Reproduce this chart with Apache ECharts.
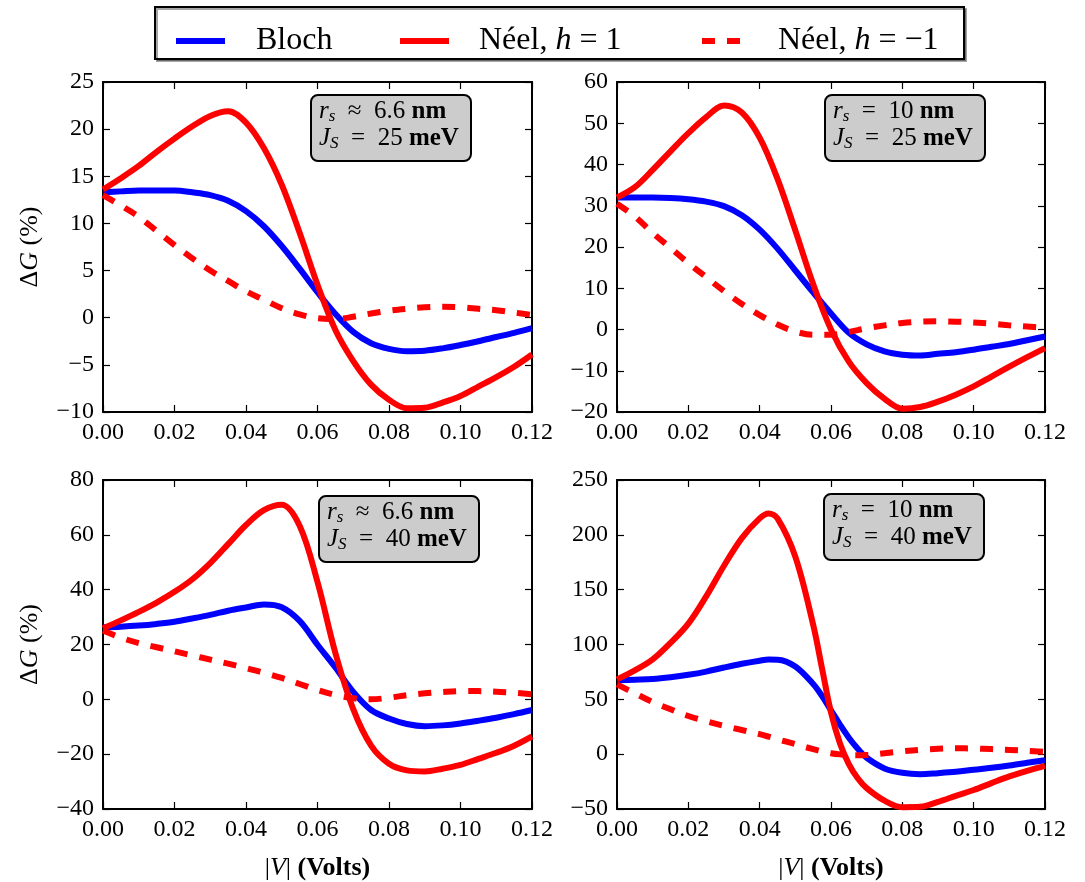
<!DOCTYPE html>
<html>
<head>
<meta charset="utf-8">
<script src="https://cdn.jsdelivr.net/npm/echarts@6/dist/echarts.min.js"></script>
<style>
html,body{margin:0;padding:0;background:#fff;}
#c{width:1085px;height:882px;}
</style>
</head>
<body>
<div id="c"></div>
<script>
// ---------- data ----------
const voltages = [0,0.005,0.01,0.015,0.02,0.025,0.03,0.035,0.04,0.045,0.05,0.055,0.06,0.065,0.07,0.075,0.08,0.085,0.09,0.095,0.10,0.105,0.11,0.115,0.12];
const voltagesBR = [0,0.005,0.01,0.015,0.02,0.025,0.03,0.035,0.04,0.0425,0.045,0.05,0.055,0.0575,0.06,0.0625,0.065,0.0675,0.07,0.075,0.08,0.085,0.09,0.095,0.10,0.105,0.11,0.115,0.12];

// top-left: r_s ~ 6.6 nm, J_S = 25 meV
const blochTL = [13.3,13.4,13.5,13.5,13.5,13.3,13.0,12.4,11.3,9.7,7.6,5.2,2.7,0.4,-1.5,-2.7,-3.3,-3.55,-3.5,-3.25,-2.9,-2.5,-2.05,-1.6,-1.1];
const neelPosTL = [13.6,14.8,16.1,17.6,19.0,20.3,21.4,21.9,20.7,18.0,14.1,9.0,3.5,-1.3,-4.6,-7.1,-8.7,-9.6,-9.55,-9.0,-8.3,-7.3,-6.3,-5.2,-3.9];
const neelNegTL = [13.0,11.9,10.7,9.2,7.7,6.3,5.0,3.9,2.8,1.9,1.0,0.35,-0.05,-0.15,0.1,0.45,0.75,0.95,1.1,1.15,1.1,0.95,0.8,0.55,0.3];

// top-right: r_s = 10 nm, J_S = 25 meV
const blochTR = [32.0,32.0,32.0,31.9,31.6,31.0,29.9,27.7,24.2,19.6,14.3,9.0,3.9,-0.8,-3.6,-5.3,-6.1,-6.3,-5.9,-5.5,-4.9,-4.2,-3.5,-2.6,-1.7];
const neelPosTR = [32.0,34.5,38.7,43.2,47.6,51.5,54.3,52.6,46.5,36.5,24.0,11.0,0.0,-7.8,-13.0,-16.8,-19.2,-18.8,-17.5,-15.8,-13.8,-11.4,-9.0,-6.7,-4.5];
const neelNegTR = [30.5,27.4,23.4,19.8,16.1,12.7,9.3,6.2,3.5,1.2,-0.5,-1.3,-1.3,-0.6,0.3,1.0,1.6,1.9,2.0,1.9,1.7,1.4,1.0,0.7,0.4];

// bottom-left: r_s ~ 6.6 nm, J_S = 40 meV
const blochBL = [26.3,26.5,26.9,27.5,28.3,29.5,30.8,32.3,33.5,34.6,33.6,28.6,19.9,11.6,2.7,-3.9,-7.0,-9.0,-9.8,-9.5,-8.8,-7.8,-6.7,-5.4,-3.9];
const neelPosBL = [25.9,28.8,31.9,35.3,39.2,43.8,49.7,56.6,63.6,69.0,71.0,63.3,42.8,16.9,-3.6,-16.9,-23.5,-25.9,-26.3,-25.3,-23.9,-21.7,-19.5,-16.9,-13.5];
const neelNegBL = [25.1,22.5,20.5,19.0,17.5,16.0,14.5,13.0,11.4,9.7,7.8,5.6,3.4,1.6,0.4,0.0,0.6,1.5,2.2,2.7,3.0,3.0,2.8,2.4,1.8];

// bottom-right: r_s = 10 nm, J_S = 40 meV (sampled on voltagesBR)
const blochBR = [67.3,67.9,68.6,70.2,72.4,75.3,79.0,82.4,85.2,86.3,86.2,80.0,64.0,53.0,40.0,27.0,15.0,5.0,-3.3,-13.0,-17.0,-18.2,-17.3,-16.1,-14.2,-12.4,-10.3,-7.9,-5.5];
const neelPosBR = [68.2,76.4,86.4,101.5,119.1,143.9,171.8,197.0,215.0,219.5,215.0,180.0,118.0,78.0,38.0,10.0,-9.0,-22.0,-31.0,-42.4,-48.3,-48.0,-43.5,-38.0,-32.7,-26.4,-20.3,-15.2,-10.6];
const neelNegBR = [63.6,55.5,47.6,40.9,34.8,30.0,25.8,22.0,18.2,16.0,13.6,9.1,4.5,2.5,0.9,-0.2,-0.9,-1.0,-0.8,0.9,2.6,4.0,4.9,5.3,5.2,4.6,3.9,3.0,2.1];

// axis ranges [min, max, interval]
const xRange = [0, 0.12, 0.02];
const yRangeTL = [-10, 25, 5];
const yRangeTR = [-20, 60, 10];
const yRangeBL = [-40, 80, 20];
const yRangeBR = [-50, 250, 50];

const seriesNames = ['Bloch', 'Néel, h = 1', 'Néel, h = \u22121'];
const boxLines = [
  ['{i|r}{sub|s}{n|  \u2248  6.6 }{b|nm}', '{i|J}{sub|S}{n|  =  25 }{b|meV}'],
  ['{i|r}{sub|s}{n|  =  10 }{b|nm}', '{i|J}{sub|S}{n|  =  25 }{b|meV}'],
  ['{i|r}{sub|s}{n|  \u2248  6.6 }{b|nm}', '{i|J}{sub|S}{n|  =  40 }{b|meV}'],
  ['{i|r}{sub|s}{n|  =  10 }{b|nm}', '{i|J}{sub|S}{n|  =  40 }{b|meV}']
];

// ---------- layout / style ----------
const FONT = 'Liberation Serif';
const BLUE = '#0000ff', RED = '#ff0000';
const LW = 6;
const DASH = [13, 12];

function richSet(fs) {
  return {
    n: {fontFamily: FONT, fontSize: fs, color: '#000'},
    i: {fontFamily: FONT, fontSize: fs, fontStyle: 'italic', color: '#000'},
    b: {fontFamily: FONT, fontSize: fs, fontWeight: 'bold', color: '#000'},
    sub: {fontFamily: FONT, fontSize: Math.round(fs * 0.68), fontStyle: 'italic', color: '#000', verticalAlign: 'bottom'},
    sp: {fontFamily: FONT, fontSize: fs}
  };
}

const panels = [
  {grid: {left: 103, top: 82, width: 429, height: 330}, yr: yRangeTL, xs: voltages, d: [blochTL, neelPosTL, neelNegTL], yName: true, xName: false, box: [310, 94]},
  {grid: {left: 617, top: 82, width: 428, height: 330}, yr: yRangeTR, xs: voltages, d: [blochTR, neelPosTR, neelNegTR], yName: false, xName: false, box: [824, 94]},
  {grid: {left: 103, top: 480, width: 429, height: 331}, yr: yRangeBL, xs: voltages, d: [blochBL, neelPosBL, neelNegBL], yName: true, xName: true, box: [318, 495]},
  {grid: {left: 617, top: 480, width: 428, height: 331}, yr: yRangeBR, xs: voltagesBR, d: [blochBR, neelPosBR, neelNegBR], yName: false, xName: true, box: [823, 493]}
];

const axisLine = {show: true, onZero: false, lineStyle: {color: '#000', width: 2}};
const axisTick = {show: true, inside: true, length: 7, lineStyle: {color: '#000', width: 1.2}};
const minus = v => String(v).replace('-', '\u2212');

const grids = [], xAxes = [], yAxes = [], series = [], graphics = [];
panels.forEach((p, k) => {
  grids.push(Object.assign({containLabel: false}, p.grid));
  xAxes.push({
    type: 'value', gridIndex: k, position: 'bottom', min: xRange[0], max: xRange[1], interval: xRange[2],
    axisLine, axisTick, splitLine: {show: false},
    axisLabel: {show: true, margin: 9, fontFamily: FONT, fontSize: 24, color: '#000', formatter: v => v.toFixed(2), showMaxLabel: true, showMinLabel: true},
    name: p.xName ? '{n||}{i|V}{n|| }{b|(Volts)}' : '',
    nameLocation: 'middle', nameGap: 46,
    nameTextStyle: {rich: richSet(26)}
  });
  xAxes.push({
    type: 'value', gridIndex: k, position: 'top', min: xRange[0], max: xRange[1], interval: xRange[2],
    axisLine, axisTick, splitLine: {show: false}, axisLabel: {show: false}
  });
  yAxes.push({
    type: 'value', gridIndex: k, position: 'left', min: p.yr[0], max: p.yr[1], interval: p.yr[2],
    axisLine, axisTick, splitLine: {show: false},
    axisLabel: {show: true, margin: 9, fontFamily: FONT, fontSize: 24, color: '#000', formatter: minus, showMaxLabel: true, showMinLabel: true},
    name: p.yName ? '{n|\u0394}{i|G}{n| (%)}' : '',
    nameLocation: 'middle', nameRotate: 90, nameGap: 60,
    nameTextStyle: {rich: richSet(26)}
  });
  yAxes.push({
    type: 'value', gridIndex: k, position: 'right', min: p.yr[0], max: p.yr[1], interval: p.yr[2],
    axisLine, axisTick, splitLine: {show: false}, axisLabel: {show: false}
  });
  const styles = [
    {color: BLUE, type: 'solid'},
    {color: RED, type: 'solid'},
    {color: RED, type: DASH}
  ];
  p.d.forEach((vals, s) => {
    series.push({
      name: seriesNames[s], type: 'line', xAxisIndex: 2 * k, yAxisIndex: 2 * k,
      data: p.xs.map((x, j) => [x, vals[j]]),
      showSymbol: false, symbol: 'none', smooth: 0.35, clip: true,
      lineStyle: {color: styles[s].color, width: LW, type: styles[s].type, cap: 'butt', join: 'round'},
      itemStyle: {color: styles[s].color},
      emphasis: {disabled: true}, z: 2 + s
    });
  });
  graphics.push({
    type: 'group', left: p.box[0], top: p.box[1], z: 10,
    children: [
      {type: 'rect', shape: {x: 0, y: 0, width: 160, height: 66, r: 7}, style: {fill: '#cccccc', stroke: '#000', lineWidth: 2}},
      {type: 'text', x: 8, y: 3, style: {text: boxLines[k].join('\n'), rich: Object.fromEntries(Object.entries(richSet(25)).map(([a, b]) => [a, Object.assign({lineHeight: 27}, b)])), lineHeight: 27}}
    ]
  });
});

// legend frame
graphics.unshift({
  type: 'rect', left: 154, top: 6, z: 0,
  shape: {x: 0, y: 0, width: 809, height: 52},
  style: {fill: '#fff', stroke: '#000', lineWidth: 2, shadowColor: 'rgba(0,0,0,0.35)', shadowOffsetX: 2, shadowOffsetY: 2, shadowBlur: 0}
});

const legendLabels = {
  'Bloch': '{sp| }{n|Bloch}',
  'Néel, h = 1': '{sp| }{n|Néel, }{i|h}{n| = 1}',
  'Néel, h = \u22121': '{sp| }{n|Néel, }{i|h}{n| = \u22121}'
};
function legendRich(sp) {
  const r = richSet(32);
  r.sp = {width: sp, fontSize: 32, fontFamily: FONT};
  return r;
}
const legends = [
  {name: seriesNames[0], left: 173, w: 49, sp: 26},
  {name: seriesNames[1], left: 397, w: 49, sp: 25},
  {name: seriesNames[2], left: 699, w: 39, sp: 32}
].map(L => ({
  show: true, data: [L.name], left: L.left, top: 25, padding: 0, itemGap: 0,
  itemWidth: L.w, itemHeight: 12, selectedMode: false, z: 20,
  itemStyle: {color: 'rgba(0,0,0,0)', borderWidth: 0, opacity: 0},
  lineStyle: {width: 6},
  formatter: n => legendLabels[n],
  textStyle: {rich: legendRich(L.sp), fontFamily: FONT, fontSize: 32, color: '#000'}
}));

const chart = echarts.init(document.getElementById('c'), null, {renderer: 'canvas'});
chart.setOption({
  animation: false,
  backgroundColor: '#fff',
  textStyle: {fontFamily: FONT},
  grid: grids,
  xAxis: xAxes,
  yAxis: yAxes,
  legend: legends,
  graphic: graphics,
  series: series
});
</script>
</body>
</html>
